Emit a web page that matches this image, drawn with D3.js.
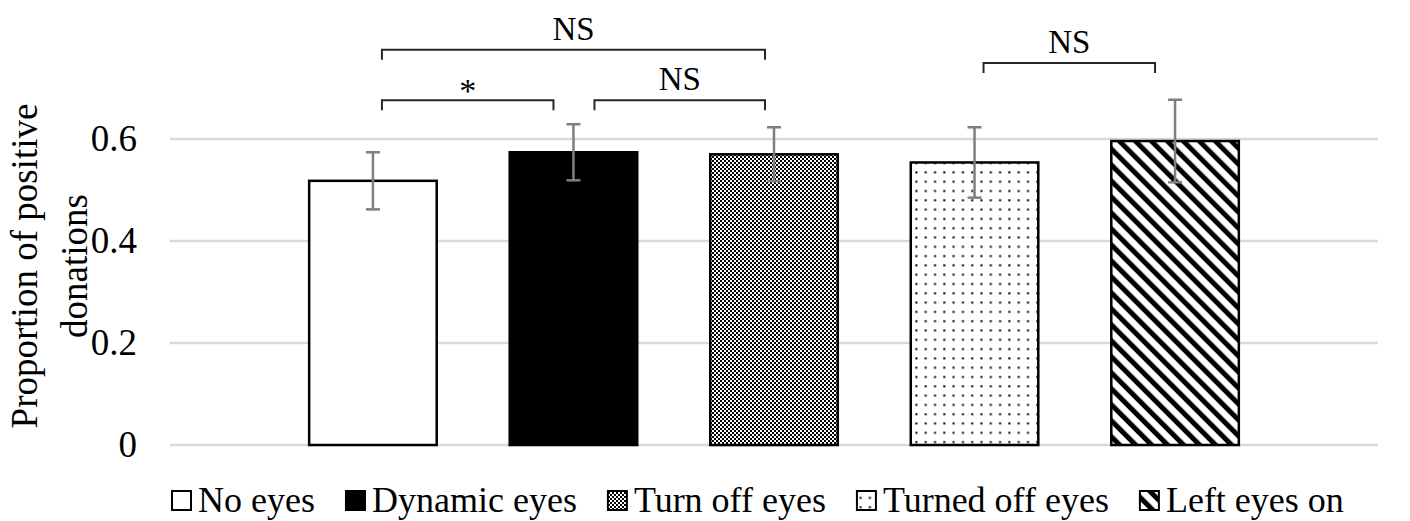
<!DOCTYPE html>
<html>
<head>
<meta charset="utf-8">
<script src="https://cdn.jsdelivr.net/npm/d3@7"></script>
<style>
  body { margin: 0; background: #fff; }
  text { font-family: "Liberation Serif", "Times New Roman", serif; fill: #000; }
</style>
</head>
<body>
<script>
// data
const categories = ['No eyes', 'Dynamic eyes', 'Turn off eyes', 'Turned off eyes', 'Left eyes on'];
const values     = [0.518, 0.574, 0.570, 0.554, 0.596];
const errors     = [0.056, 0.055, 0.053, 0.069, 0.081];
const fills      = ['white', 'black', 'url(#pat-check)', 'url(#pat-dots)', 'url(#pat-stripe)'];
const yTicks     = [0, 0.2, 0.4, 0.6];
// comparisons: from bar, to bar, label, height (in data units)
const compFrom   = [0, 1, 0, 3];
const compTo     = [1, 2, 2, 4];
const compLabel  = ['*', 'NS', 'NS', 'NS'];
const compLevel  = [0.676, 0.676, 0.775, 0.749];

const W = 1410, H = 521;
const svg = d3.select('body').append('svg')
    .attr('width', W)
    .attr('height', H);

// patterns
const defs = svg.append('defs');
const pc = defs.append('pattern').attr('id', 'pat-check')
    .attr('patternUnits', 'userSpaceOnUse').attr('width', 4).attr('height', 4);
pc.append('rect').attr('width', 4).attr('height', 4).attr('fill', 'white');
pc.append('rect').attr('x', 0).attr('y', 0).attr('width', 2).attr('height', 2).attr('fill', 'black');
pc.append('rect').attr('x', 2).attr('y', 2).attr('width', 2).attr('height', 2).attr('fill', 'black');

const pd = defs.append('pattern').attr('id', 'pat-dots')
    .attr('patternUnits', 'userSpaceOnUse').attr('width', 9.3).attr('height', 9.3);
pd.append('rect').attr('width', 9.3).attr('height', 9.3).attr('fill', 'white');
pd.append('rect').attr('x', 4).attr('y', 4).attr('width', 2).attr('height', 2).attr('fill', 'black');

const ps = defs.append('pattern').attr('id', 'pat-stripe')
    .attr('patternUnits', 'userSpaceOnUse').attr('width', 11.3).attr('height', 11.3)
    .attr('patternTransform', 'rotate(-45)');
ps.append('rect').attr('width', 11.3).attr('height', 11.3).attr('fill', 'white');
ps.append('rect').attr('x', 0).attr('y', 0).attr('width', 5).attr('height', 11.3).attr('fill', 'black');

// scales
const y = d3.scaleLinear().domain([0, 0.6]).range([445, 139]);
const x = d3.scaleBand().domain(categories).range([170, 1378])
    .paddingInner(0.364).paddingOuter(0.694);
const cx = i => x(categories[i]) + x.bandwidth() / 2;

// gridlines
svg.append('g')
  .selectAll('line')
  .data(yTicks)
  .enter().append('line')
    .attr('x1', 170).attr('x2', 1378)
    .attr('y1', d => y(d)).attr('y2', d => y(d))
    .attr('stroke', '#d9d9d9')
    .attr('stroke-width', 2.5);

// y axis labels
const yAxis = svg.append('g')
    .attr('transform', 'translate(150,0)')
    .call(d3.axisLeft(y).tickValues(yTicks).tickSize(0).tickPadding(13)
      .tickFormat(d => d === 0 ? '0' : d3.format('.1f')(d)));
yAxis.select('.domain').remove();
yAxis.selectAll('text')
    .style('font-family', '"Liberation Serif", "Times New Roman", serif')
    .style('font-size', '37px')
    .attr('fill', '#000');

// axis title
const titleLines = ['Proportion of positive', 'donations'];
svg.selectAll('.ytitle')
  .data(titleLines)
  .enter().append('text')
    .attr('class', 'ytitle')
    .attr('transform', 'rotate(-90)')
    .attr('x', -266)
    .attr('y', (d, i) => 37 + i * 50)
    .attr('text-anchor', 'middle')
    .style('font-size', '37px')
    .text(d => d);

// bars
svg.append('g')
  .selectAll('rect')
  .data(values)
  .enter().append('rect')
    .attr('x', (d, i) => x(categories[i]))
    .attr('y', d => y(d))
    .attr('width', x.bandwidth())
    .attr('height', d => y(0) - y(d))
    .attr('fill', (d, i) => fills[i])
    .attr('stroke', 'black')
    .attr('stroke-width', 2.5);

// error bars
const eb = svg.append('g')
    .attr('stroke', '#7f7f7f')
    .attr('stroke-width', 2.5);
values.forEach((v, i) => {
  const c = cx(i);
  const top = y(v + errors[i]);
  const bot = y(v - errors[i]);
  eb.append('line').attr('x1', c).attr('x2', c).attr('y1', top).attr('y2', bot);
  eb.append('line').attr('x1', c - 7).attr('x2', c + 7).attr('y1', top).attr('y2', top);
  eb.append('line').attr('x1', c - 7).attr('x2', c + 7).attr('y1', bot).attr('y2', bot);
});

// significance brackets
const br = svg.append('g');
compFrom.forEach((a, k) => {
  const b = compTo[k];
  const lvl = compLevel[k];
  // ends shared with another bracket are pulled in differently
  const sharedStart = compTo.some((t, j) => j !== k && t === a && compLevel[j] === lvl);
  const sharedEnd = compTo.some((t, j) => j !== k && t === b);
  const x1 = cx(a) + (sharedStart ? 21 : 9);
  const x2 = cx(b) - (sharedEnd ? 9 : 20);
  const yy = y(lvl);
  br.append('path')
      .attr('d', `M${x1},${yy + 10}V${yy}H${x2}V${yy + 10}`)
      .attr('fill', 'none')
      .attr('stroke', '#262626')
      .attr('stroke-width', 2);
  const star = compLabel[k] === '*';
  br.append('text')
      .attr('x', (x1 + x2) / 2)
      .attr('y', star ? yy + 2 : yy - 10)
      .attr('text-anchor', 'middle')
      .style('font-size', star ? '34px' : '33px')
      .text(compLabel[k]);
});

// legend
const lg = svg.append('g');
let lx = 172;
categories.forEach((c, i) => {
  lg.append('rect')
      .attr('x', lx).attr('y', 491)
      .attr('width', 19).attr('height', 19)
      .attr('fill', fills[i])
      .attr('stroke', 'black')
      .attr('stroke-width', 2);
  const t = lg.append('text')
      .attr('x', lx + 26)
      .attr('y', 512)
      .style('font-size', '36px')
      .text(c);
  lx += 26 + t.node().getComputedTextLength() + 31;
});
</script>
</body>
</html>
